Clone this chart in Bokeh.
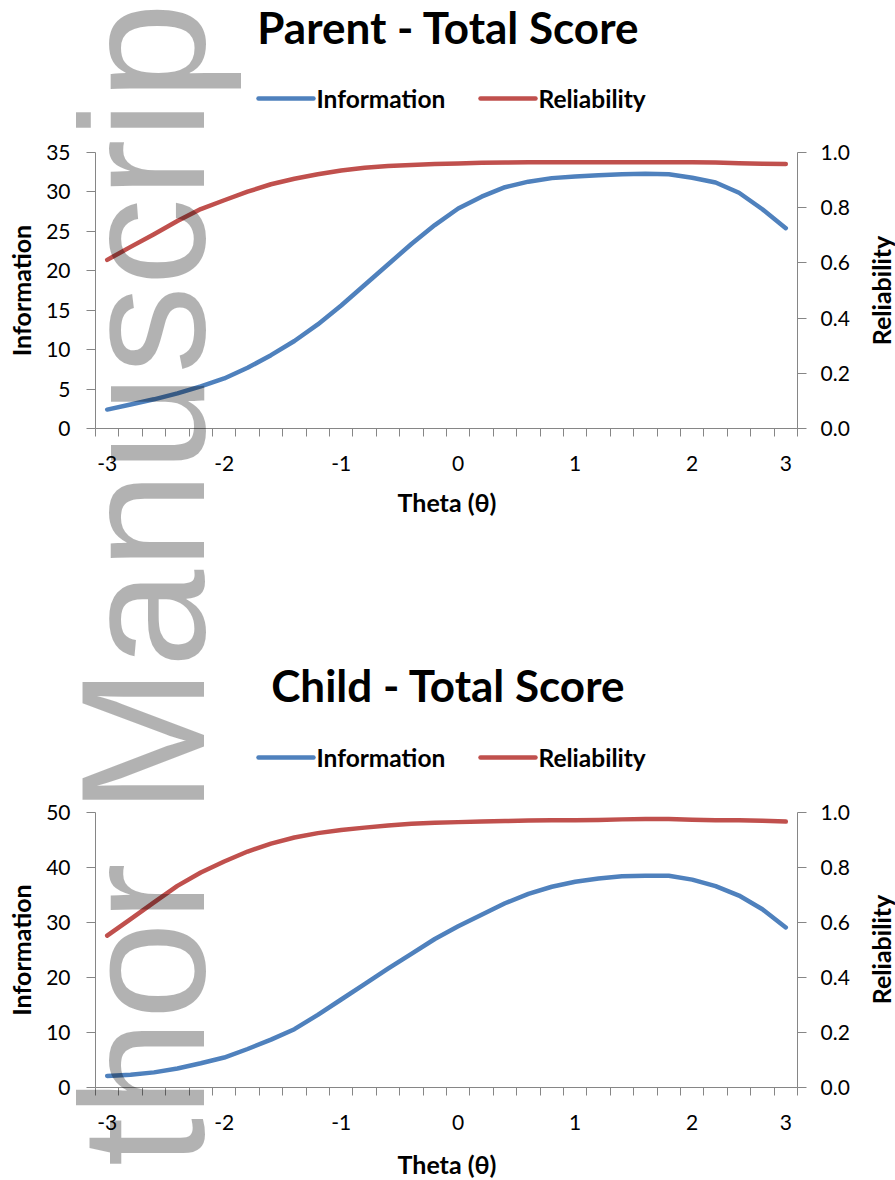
import math
from bokeh.plotting import figure
from bokeh.models import Range1d, LinearAxis, FixedTicker, Label, NumeralTickFormatter
from bokeh.layouts import column
from bokeh.embed import file_html
from bokeh.resources import INLINE

# ---------------- data ----------------
theta = [-3.0, -2.8, -2.6, -2.4, -2.2, -2.0, -1.8, -1.6, -1.4, -1.2,
         -1.0, -0.8, -0.6, -0.4, -0.2, 0.0, 0.2, 0.4, 0.6, 0.8,
         1.0, 1.2, 1.4, 1.6, 1.8, 2.0, 2.2, 2.4, 2.6, 2.8]
x_tick_index = [0, 5, 10, 15, 20, 25, 29]
x_tick_labels = ["-3", "-2", "-1", "0", "1", "2", "3"]

parent_info = [2.4, 3.05, 3.7, 4.45, 5.35, 6.35, 7.7, 9.3, 11.1, 13.2,
               15.6, 18.2, 20.8, 23.4, 25.8, 27.9, 29.4, 30.6, 31.3, 31.75,
               31.95, 32.1, 32.25, 32.3, 32.25, 31.8, 31.2, 29.9, 27.8, 25.4]
parent_rel = [0.611, 0.658, 0.704, 0.752, 0.795, 0.827, 0.858, 0.885, 0.905, 0.921,
              0.935, 0.945, 0.951, 0.955, 0.958, 0.960, 0.963, 0.964, 0.965, 0.965,
              0.965, 0.965, 0.965, 0.965, 0.965, 0.965, 0.964, 0.961, 0.959, 0.958]

child_info = [2.1, 2.3, 2.75, 3.45, 4.4, 5.45, 7.0, 8.7, 10.6, 13.2,
              16.0, 18.8, 21.6, 24.3, 27.0, 29.3, 31.4, 33.5, 35.2, 36.5,
              37.4, 38.0, 38.4, 38.5, 38.5, 37.8, 36.6, 34.9, 32.4, 29.1]
child_rel = [0.552, 0.612, 0.673, 0.733, 0.782, 0.822, 0.858, 0.887, 0.909, 0.925,
             0.936, 0.945, 0.953, 0.959, 0.963, 0.965, 0.967, 0.969, 0.971, 0.972,
             0.972, 0.973, 0.975, 0.976, 0.976, 0.974, 0.972, 0.972, 0.970, 0.967]

parent_info_ticks = [0, 5, 10, 15, 20, 25, 30, 35]
child_info_ticks = [0, 10, 20, 30, 40, 50]
rel_ticks = [0.0, 0.2, 0.4, 0.6, 0.8, 1.0]

titles = ["Parent - Total Score", "Child - Total Score"]
series_names = ["Information", "Reliability"]
series_colors = ["#4F81BD", "#C0504D"]
x_title = "Theta (\u03b8)"
watermark = "thor Manuscrip"

AXIS = "#868686"
FONT = "Lato"

PAGE_W, PAGE_H = 895, 1180
L_B, R_B = 95, 98


def make_chart(info, rel, info_ticks, fig_h, top_border, frame_h):
    n = len(theta)
    xs = list(range(n))
    p = figure(width=PAGE_W, height=fig_h,
               x_range=Range1d(-0.5, n - 0.5), y_range=Range1d(0, info_ticks[-1]),
               output_backend="svg", toolbar_location=None,
               min_border_left=L_B, min_border_right=R_B,
               min_border_top=top_border, min_border_bottom=fig_h - top_border - frame_h)
    p.extra_y_ranges = {"rel": Range1d(0, 1)}
    p.outline_line_color = None
    p.xgrid.visible = False
    p.ygrid.visible = False
    p.background_fill_color = "white"
    p.border_fill_color = "white"

    p.line(xs, info, line_color=series_colors[0], line_width=4.5, line_cap="round", line_join="round")
    p.line(xs, rel, line_color=series_colors[1], line_width=4.5, line_cap="round", line_join="round",
           y_range_name="rel")

    xa = p.xaxis[0]
    xa.ticker = FixedTicker(ticks=x_tick_index, minor_ticks=[i - 0.5 for i in range(n + 1)])
    xa.major_label_overrides = {k: v for k, v in zip(x_tick_index, x_tick_labels)}
    xa.major_tick_line_color = None
    xa.major_tick_out = 8
    xa.major_tick_in = 0
    xa.minor_tick_line_color = AXIS
    xa.minor_tick_out = 8
    xa.minor_tick_in = 0
    xa.axis_line_color = AXIS
    xa.major_label_text_font = FONT
    xa.major_label_text_font_size = "21px"
    xa.major_label_text_color = "black"
    xa.major_label_standoff = 19

    ya = p.yaxis[0]
    ya.ticker = FixedTicker(ticks=info_ticks)
    ya.axis_line_color = AXIS
    ya.major_tick_line_color = AXIS
    ya.major_tick_out = 9
    ya.major_tick_in = 0
    ya.minor_tick_line_color = None
    ya.major_label_text_font = FONT
    ya.major_label_text_font_size = "21px"
    ya.major_label_text_color = "black"
    ya.major_label_standoff = 16
    ya.axis_label = series_names[0]
    ya.axis_label_text_font = FONT
    ya.axis_label_text_font_style = "bold"
    ya.axis_label_text_font_size = "25px"
    ya.axis_label_text_color = "black"
    ya.axis_label_standoff = 7

    ra = LinearAxis(y_range_name="rel", ticker=FixedTicker(ticks=rel_ticks),
                    formatter=NumeralTickFormatter(format="0.0"))
    ra.axis_line_color = AXIS
    ra.major_tick_line_color = AXIS
    ra.major_tick_out = 9
    ra.major_tick_in = 0
    ra.minor_tick_line_color = None
    ra.major_label_text_font = FONT
    ra.major_label_text_font_size = "21px"
    ra.major_label_text_color = "black"
    ra.major_label_standoff = 14
    p.add_layout(ra, "right")
    return p


p1 = make_chart(parent_info, parent_rel, parent_info_ticks, fig_h=588, top_border=152, frame_h=276)
p2 = make_chart(child_info, child_rel, child_info_ticks, fig_h=592, top_border=224, frame_h=275)

# ---------- transparent overlay (page pixel coordinates) for titles, legends, watermark ----------
ov = figure(width=PAGE_W, height=PAGE_H, x_range=Range1d(0, PAGE_W), y_range=Range1d(PAGE_H, 0),
            output_backend="svg", toolbar_location=None,
            x_axis_location=None, y_axis_location=None, min_border=0)
ov.grid.visible = False
ov.outline_line_color = None
ov.background_fill_color = None
ov.border_fill_color = None
ov.margin = (-PAGE_H, 0, 0, 0)

# (title y, legend row y, axis-title y, right-title y) in page pixels
chart_geom = [(26, 98, 501, 290), (684, 757, 1163, 949)]
LEG_KEY_X = [258, 480]
LEG_KEY_W = 55

for title, (ty, ly, xty, ry) in zip(titles, chart_geom):
    ov.add_layout(Label(x=448, y=ty, text=title, text_font=FONT, text_font_style="bold",
                        text_font_size="44px", text_color="black",
                        text_align="center", text_baseline="middle"))
    ov.add_layout(Label(x=446, y=xty, text=x_title, text_font=FONT, text_font_style="bold",
                        text_font_size="25px", text_color="black",
                        text_align="center", text_baseline="middle"))
    ov.add_layout(Label(x=880, y=ry, text=series_names[1], text_font=FONT,
                        text_font_style="bold", text_font_size="25px", text_color="black",
                        text_align="center", text_baseline="middle", angle=math.pi / 2))
    # legend keys and labels
    ov.segment(x0=LEG_KEY_X, x1=[k + LEG_KEY_W for k in LEG_KEY_X], y0=[ly, ly], y1=[ly, ly],
               line_color=series_colors, line_width=4.5, line_cap="round")
    for kx, name in zip(LEG_KEY_X, series_names):
        ov.add_layout(Label(x=kx + LEG_KEY_W + 3, y=ly, text=name, text_font=FONT,
                            text_font_style="bold", text_font_size="24.5px", text_color="black",
                            text_align="left", text_baseline="middle"))

ov.add_layout(Label(x=142, y=1166, text=watermark,
                    text_font="Liberation Sans", text_font_size="176px",
                    text_color="black", text_alpha=0.3,
                    text_align="left", text_baseline="alphabetic", angle=math.pi / 2))

layout = column(p1, p2, spacing=0)
open("out.html", "w").write(file_html([layout, ov], INLINE))
